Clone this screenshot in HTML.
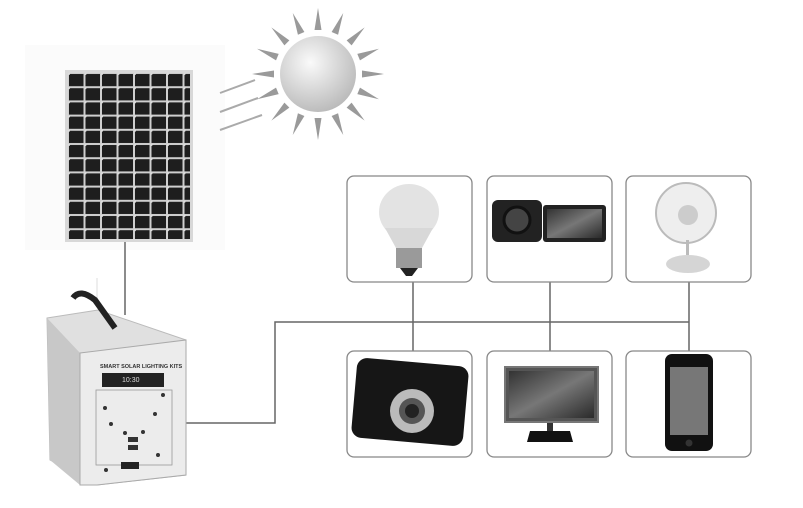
<!DOCTYPE html>
<html><head><style>
html,body{margin:0;padding:0;background:#fff;width:803px;height:508px;overflow:hidden}
</style></head><body>
<svg width="803" height="508" viewBox="0 0 803 508" xmlns="http://www.w3.org/2000/svg" font-family="Liberation Sans, sans-serif">
<defs>
<pattern id="cells" x="68" y="73" width="16.5" height="14.2" patternUnits="userSpaceOnUse">
<rect width="16.5" height="14.2" fill="#cfcfcf"/>
<rect x="1" y="1" width="14.5" height="12.2" fill="#1e1e1e"/>
<circle cx="0.5" cy="0.5" r="1.6" fill="#ddd"/>
</pattern>
<radialGradient id="sun" cx="0.4" cy="0.35" r="0.7">
<stop offset="0" stop-color="#fafafa"/><stop offset="1" stop-color="#b8b8b8"/>
</radialGradient>
<linearGradient id="scr" x1="0" y1="0" x2="1" y2="1">
<stop offset="0" stop-color="#333"/><stop offset="0.5" stop-color="#777"/><stop offset="1" stop-color="#2a2a2a"/>
</linearGradient>
</defs>
<rect x="25" y="45" width="200" height="205" fill="#fbfbfb"/>
<rect x="65" y="70" width="128" height="172" fill="#d8d8d8"/>
<rect x="68" y="73" width="122" height="166" fill="url(#cells)"/>
<g transform="translate(318,74)" fill="#9a9a9a">
<g id="ray"><polygon points="-3.5,-44 3.5,-44 0,-66"/></g>
<use href="#ray" transform="rotate(22.5)"/><use href="#ray" transform="rotate(45)"/><use href="#ray" transform="rotate(67.5)"/>
<use href="#ray" transform="rotate(90)"/><use href="#ray" transform="rotate(112.5)"/><use href="#ray" transform="rotate(135)"/>
<use href="#ray" transform="rotate(157.5)"/><use href="#ray" transform="rotate(180)"/><use href="#ray" transform="rotate(202.5)"/>
<use href="#ray" transform="rotate(225)"/><use href="#ray" transform="rotate(247.5)"/><use href="#ray" transform="rotate(270)"/>
<use href="#ray" transform="rotate(292.5)"/><use href="#ray" transform="rotate(315)"/><use href="#ray" transform="rotate(337.5)"/>
<circle r="38" fill="url(#sun)"/>
</g>
<g stroke="#aaa" stroke-width="2">
<line x1="220" y1="93" x2="255" y2="80"/><line x1="220" y1="112" x2="258" y2="98"/><line x1="220" y1="130" x2="262" y2="115"/>
</g>
<g stroke="#666" stroke-width="1.5" fill="none">
<line x1="125" y1="242" x2="125" y2="315"/>
<polyline points="181,423 275,423 275,322 689,322"/>
<line x1="413" y1="282" x2="413" y2="351"/>
<line x1="550" y1="282" x2="550" y2="351"/>
<line x1="689" y1="282" x2="689" y2="351"/>
</g>
<line x1="97" y1="278" x2="97" y2="300" stroke="#ddd"/>
<polygon points="47,318 98,310 186,340 186,475 97,485 50,460" fill="#e0e0e0" stroke="#bbb"/>
<polygon points="47,318 80,353 80,485 50,460" fill="#c8c8c8"/>
<polygon points="80,353 186,340 186,475 97,485 80,485" fill="#ececec" stroke="#aaa"/>
<path d="M73,298 Q80,288 95,300 L115,328" stroke="#222" stroke-width="6" fill="none"/>
<text x="100" y="368" font-size="5.5" font-weight="bold" fill="#333">SMART SOLAR LIGHTING KITS</text>
<rect x="102" y="373" width="62" height="14" fill="#222"/>
<text x="122" y="382" font-size="7" fill="#ddd">10:30</text>
<rect x="96" y="390" width="76" height="75" fill="none" stroke="#999" stroke-width="0.8"/>
<g fill="#333"><circle cx="105" cy="408" r="2"/><circle cx="163" cy="395" r="2"/><circle cx="155" cy="414" r="2"/><circle cx="111" cy="424" r="2"/><circle cx="125" cy="433" r="2"/><circle cx="143" cy="432" r="2"/><circle cx="158" cy="455" r="2"/><circle cx="106" cy="470" r="2"/></g>
<rect x="128" y="437" width="10" height="5" fill="#333"/><rect x="128" y="445" width="10" height="5" fill="#333"/>
<rect x="121" y="462" width="18" height="7" fill="#222"/>
<g fill="#fff" stroke="#888" stroke-width="1.3">
<rect x="347" y="176" width="125" height="106" rx="7"/>
<rect x="487" y="176" width="125" height="106" rx="7"/>
<rect x="626" y="176" width="125" height="106" rx="7"/>
<rect x="347" y="351" width="125" height="106" rx="7"/>
<rect x="487" y="351" width="125" height="106" rx="7"/>
<rect x="626" y="351" width="125" height="106" rx="7"/>
</g>
<ellipse cx="409" cy="212" rx="30" ry="28" fill="#e3e3e3"/>
<polygon points="385,228 433,228 422,248 396,248" fill="#d8d8d8"/>
<rect x="396" y="248" width="26" height="20" fill="#9a9a9a"/>
<path d="M400,268 L418,268 L412,276 L406,276Z" fill="#222"/>
<rect x="492" y="200" width="50" height="42" rx="6" fill="#222"/>
<circle cx="517" cy="220" r="13" fill="#444" stroke="#111" stroke-width="3"/>
<rect x="543" y="205" width="63" height="37" rx="3" fill="#222"/>
<rect x="547" y="209" width="55" height="29" fill="url(#scr)"/>
<circle cx="686" cy="213" r="30" fill="#eee" stroke="#bbb" stroke-width="2"/>
<circle cx="688" cy="215" r="10" fill="#ccc"/>
<rect x="686" y="240" width="3" height="15" fill="#bbb"/>
<ellipse cx="688" cy="264" rx="22" ry="9" fill="#d5d5d5"/>
<rect x="354" y="362" width="112" height="80" rx="10" fill="#161616" transform="rotate(5 410 402)"/>
<circle cx="412" cy="411" r="22" fill="#bbb"/>
<circle cx="412" cy="411" r="13" fill="#555"/>
<circle cx="412" cy="411" r="7" fill="#222"/>
<rect x="505" y="367" width="93" height="55" fill="#555" stroke="#777" stroke-width="2"/>
<rect x="509" y="371" width="85" height="47" fill="url(#scr)"/>
<rect x="547" y="423" width="6" height="8" fill="#333"/>
<path d="M530,431 L570,431 L573,442 L527,442Z" fill="#111"/>
<rect x="665" y="354" width="48" height="97" rx="7" fill="#111"/>
<rect x="670" y="367" width="38" height="68" fill="#777"/>
<circle cx="689" cy="443" r="3.5" fill="#333"/>
</svg>
</body></html>
